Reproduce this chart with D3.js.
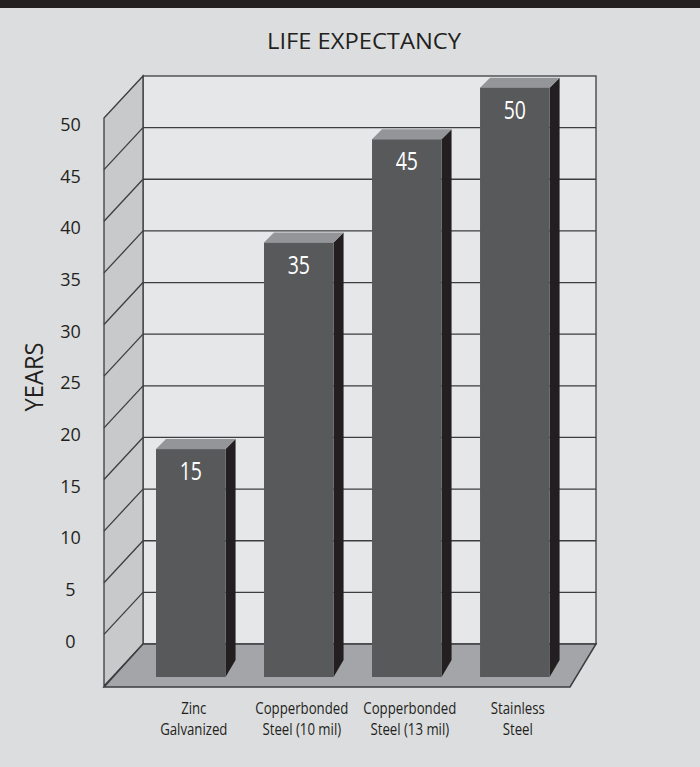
<!DOCTYPE html>
<html>
<head>
<meta charset="utf-8">
<script src="https://cdn.jsdelivr.net/npm/d3@7"></script>
<style>
  html, body { margin: 0; padding: 0; background: #dcdddf; }
  svg { display: block; }
  text { font-family: "Open Sans", "Noto Sans", sans-serif; fill: #231f20; }
</style>
</head>
<body>
<svg id="chart" width="700" height="767"></svg>
<script>
// ---- data ----
const title = "LIFE EXPECTANCY";
const yAxisLabel = "YEARS";
const categories = ["Zinc\nGalvanized", "Copperbonded\nSteel (10 mil)", "Copperbonded\nSteel (13 mil)", "Stainless\nSteel"];
const values = [15, 35, 45, 50];
const yTicks = [0, 5, 10, 15, 20, 25, 30, 35, 40, 45, 50];
const yMax = 55;

// ---- layout ----
const W = 700, H = 767;
const wall = { left: 143, right: 596, top: 76, bottom: 644 };
const side = { dx: 39, dy: 42 };          // side wall depth offset
const floorFrontRight = 570;
const barFrontBottom = 677;
const barLift = 40;                        // bars drawn higher than the wall scale
const depth = { dx: 10, dy: 10, bottomDy: 17 };

const svg = d3.select("#chart");

svg.append("rect").attr("x", 0).attr("y", 0).attr("width", W).attr("height", H).attr("fill", "#dcdddf");
svg.append("rect").attr("x", 0).attr("y", 0).attr("width", W).attr("height", 8).attr("fill", "#231f20");

const y = d3.scaleLinear().domain([0, yMax]).range([wall.bottom, wall.top]);
const x = d3.scaleBand().domain(categories).range([123.6, 582]).paddingInner(0.356).paddingOuter(0.3);

const lineColor = "#3d3d3f";

// back wall
svg.append("rect")
  .attr("x", wall.left).attr("y", y(yMax))
  .attr("width", wall.right - wall.left).attr("height", y(0) - y(yMax))
  .attr("fill", "#e6e7e8").attr("stroke", lineColor).attr("stroke-width", 1.3);

// side wall
const sideFront = wall.left - side.dx;
svg.append("polygon")
  .attr("points", [[sideFront, y(yMax) + side.dy], [wall.left, y(yMax)], [wall.left, y(0)], [sideFront, y(0) + side.dy]].map(p => p.join(",")).join(" "))
  .attr("fill", "#c8c9cb").attr("stroke", lineColor).attr("stroke-width", 1.3);

// floor
svg.append("polygon")
  .attr("points", [[wall.left, y(0)], [wall.right, y(0)], [floorFrontRight, y(0) + side.dy + 1], [sideFront, y(0) + side.dy + 1]].map(p => p.join(",")).join(" "))
  .attr("fill", "#a4a5a8").attr("stroke", lineColor).attr("stroke-width", 1.5);

// gridlines on back wall
svg.append("g").selectAll("line.grid").data(yTicks.filter(t => t > 0)).join("line")
  .attr("x1", wall.left).attr("x2", wall.right)
  .attr("y1", d => y(d)).attr("y2", d => y(d))
  .attr("stroke", lineColor).attr("stroke-width", 1.3);

// gridlines on side wall
svg.append("g").selectAll("line").data(yTicks.filter(t => t > 0)).join("line")
  .attr("x1", sideFront).attr("y1", d => y(d) + side.dy)
  .attr("x2", wall.left).attr("y2", d => y(d))
  .attr("stroke", lineColor).attr("stroke-width", 1.3);

// y tick labels
svg.append("g").selectAll("text").data(yTicks).join("text")
  .attr("x", 70.5).attr("y", d => y(d) + 3.5)
  .attr("text-anchor", "middle")
  .attr("font-size", 18)
  .text(d => d);

// y axis label
svg.append("text")
  .attr("transform", `translate(43, 377) rotate(-90)`)
  .attr("text-anchor", "middle")
  .attr("font-size", 25)
  .attr("textLength", 69).attr("lengthAdjust", "spacingAndGlyphs")
  .text(yAxisLabel);

// title
svg.append("text")
  .attr("x", 364).attr("y", 49)
  .attr("text-anchor", "middle")
  .attr("font-size", 22.5)
  .attr("textLength", 194).attr("lengthAdjust", "spacingAndGlyphs")
  .text(title);

// bars
const bars = svg.append("g").selectAll("g").data(values.map((v, i) => ({ cat: categories[i], v }))).join("g");
const bx = d => x(d.cat);
const bw = x.bandwidth();
const topY = d => y(d.v) - barLift;

// side face
bars.append("polygon")
  .attr("points", d => {
    const x2 = bx(d) + bw;
    return [[x2, topY(d)], [x2 + depth.dx, topY(d) - depth.dy], [x2 + depth.dx, barFrontBottom - depth.bottomDy], [x2, barFrontBottom]].map(p => p.join(",")).join(" ");
  })
  .attr("fill", "#231f20");
// top face
bars.append("polygon")
  .attr("points", d => {
    const x1 = bx(d), x2 = bx(d) + bw, t = topY(d);
    return [[x1, t], [x1 + depth.dx, t - depth.dy], [x2 + depth.dx, t - depth.dy], [x2, t]].map(p => p.join(",")).join(" ");
  })
  .attr("fill", "#939598");
// front face
bars.append("rect")
  .attr("x", d => bx(d)).attr("y", d => topY(d))
  .attr("width", bw).attr("height", d => barFrontBottom - topY(d))
  .attr("fill", "#58595b");
// value labels
bars.append("text")
  .attr("transform", d => `translate(${bx(d) + bw / 2}, ${topY(d) + 31}) scale(0.75,1)`)
  .attr("text-anchor", "middle")
  .attr("font-size", 26)
  .style("fill", "#ffffff")
  .text(d => d.v);

// category labels
const xl = svg.append("g").selectAll("g").data(categories).join("g")
  .attr("transform", d => `translate(${x(d) + bw / 2 + 3}, 0)`);
xl.each(function (d) {
  const lines = d.split("\n");
  d3.select(this).selectAll("text").data(lines).join("text")
    .attr("transform", (l, i) => `translate(0, ${714 + i * 21}) scale(0.8,1)`)
    .attr("text-anchor", "middle")
    .attr("font-size", 16.5)
    .text(l => l);
});
</script>
</body>
</html>
